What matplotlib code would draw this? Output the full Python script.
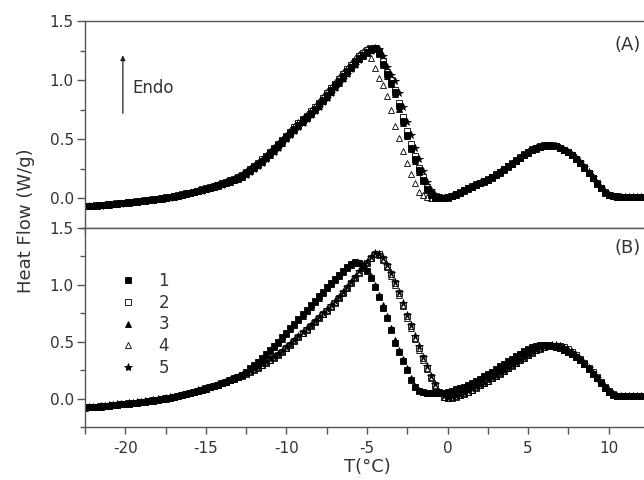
import matplotlib.pyplot as plt
import numpy as np

plt.rcParams['font.family'] = ['DejaVu Sans']
plt.rcParams['axes.unicode_minus'] = False

# temperature grid, deg C
temp = np.arange(-22.5, 12.3, 0.25)

# panel (A): heat flow (W/g) for samples 1-5
a1 = [-0.065, -0.064, -0.062, -0.060, -0.057, -0.054, -0.050, -0.047, -0.043, -0.040,
      -0.037, -0.034, -0.030, -0.026, -0.022, -0.018, -0.014, -0.010, -0.005, 0.000,
      0.005, 0.011, 0.017, 0.024, 0.031, 0.039, 0.047, 0.055, 0.063, 0.072,
      0.081, 0.090, 0.100, 0.110, 0.121, 0.132, 0.144, 0.157, 0.171, 0.190,
      0.215, 0.240, 0.265, 0.290, 0.320, 0.350, 0.380, 0.415, 0.450, 0.485,
      0.520, 0.555, 0.590, 0.625, 0.660, 0.690, 0.725, 0.760, 0.795, 0.835,
      0.875, 0.915, 0.955, 0.995, 1.035, 1.075, 1.115, 1.150, 1.185, 1.215,
      1.240, 1.260, 1.275, 1.230, 1.140, 1.050, 0.980, 0.900, 0.780, 0.655,
      0.540, 0.430, 0.330, 0.240, 0.160, 0.080, 0.035, 0.015, 0.007, 0.004,
      0.008, 0.020, 0.035, 0.050, 0.070, 0.085, 0.100, 0.115, 0.130, 0.145,
      0.160, 0.180, 0.200, 0.220, 0.245, 0.270, 0.295, 0.320, 0.345, 0.370,
      0.390, 0.410, 0.425, 0.437, 0.445, 0.448, 0.446, 0.440, 0.428, 0.410,
      0.390, 0.365, 0.335, 0.300, 0.260, 0.215, 0.170, 0.125, 0.085, 0.050,
      0.030, 0.020, 0.016, 0.014, 0.013, 0.013, 0.013, 0.013, 0.013, 0.013]
a2 = [-0.063, -0.062, -0.060, -0.058, -0.055, -0.052, -0.048, -0.045, -0.041, -0.038,
      -0.035, -0.032, -0.028, -0.024, -0.020, -0.016, -0.012, -0.007, -0.002, 0.003,
      0.008, 0.014, 0.020, 0.027, 0.034, 0.042, 0.050, 0.058, 0.067, 0.076,
      0.085, 0.095, 0.105, 0.116, 0.127, 0.139, 0.152, 0.166, 0.181, 0.200,
      0.225, 0.250, 0.275, 0.300, 0.330, 0.360, 0.390, 0.425, 0.460, 0.495,
      0.530, 0.565, 0.600, 0.635, 0.670, 0.700, 0.735, 0.770, 0.810, 0.850,
      0.890, 0.930, 0.970, 1.010, 1.050, 1.090, 1.130, 1.165, 1.200, 1.230,
      1.255, 1.270, 1.270, 1.240, 1.160, 1.070, 1.000, 0.920, 0.810, 0.685,
      0.570, 0.460, 0.355, 0.260, 0.180, 0.095, 0.045, 0.018, 0.008, 0.004,
      0.009, 0.021, 0.036, 0.052, 0.072, 0.088, 0.103, 0.118, 0.133, 0.148,
      0.164, 0.184, 0.205, 0.226, 0.250, 0.275, 0.300, 0.325, 0.350, 0.374,
      0.395, 0.414, 0.430, 0.441, 0.448, 0.451, 0.449, 0.442, 0.430, 0.412,
      0.392, 0.367, 0.337, 0.302, 0.262, 0.218, 0.172, 0.127, 0.088, 0.053,
      0.032, 0.021, 0.017, 0.015, 0.014, 0.014, 0.014, 0.014, 0.014, 0.014]
a3 = [-0.067, -0.066, -0.064, -0.062, -0.059, -0.056, -0.052, -0.049, -0.045, -0.042,
      -0.039, -0.036, -0.032, -0.028, -0.024, -0.020, -0.016, -0.012, -0.007, -0.002,
      0.003, 0.009, 0.015, 0.022, 0.029, 0.037, 0.045, 0.053, 0.061, 0.070,
      0.079, 0.088, 0.098, 0.108, 0.119, 0.130, 0.142, 0.155, 0.168, 0.185,
      0.208, 0.232, 0.256, 0.281, 0.310, 0.340, 0.370, 0.403, 0.437, 0.472,
      0.507, 0.542, 0.577, 0.612, 0.647, 0.677, 0.712, 0.747, 0.782, 0.820,
      0.860, 0.900, 0.940, 0.980, 1.020, 1.060, 1.100, 1.138, 1.175, 1.205,
      1.232, 1.252, 1.265, 1.220, 1.125, 1.035, 0.965, 0.880, 0.760, 0.640,
      0.525, 0.415, 0.315, 0.225, 0.145, 0.070, 0.030, 0.013, 0.006, 0.004,
      0.007, 0.018, 0.033, 0.048, 0.067, 0.082, 0.097, 0.112, 0.127, 0.142,
      0.157, 0.176, 0.196, 0.216, 0.240, 0.265, 0.290, 0.315, 0.340, 0.365,
      0.386, 0.406, 0.422, 0.434, 0.443, 0.447, 0.446, 0.441, 0.430, 0.413,
      0.394, 0.370, 0.341, 0.307, 0.268, 0.224, 0.178, 0.132, 0.090, 0.055,
      0.033, 0.021, 0.016, 0.014, 0.013, 0.013, 0.013, 0.013, 0.013, 0.013]
a4 = [-0.062, -0.061, -0.059, -0.057, -0.054, -0.051, -0.047, -0.044, -0.040, -0.037,
      -0.034, -0.031, -0.027, -0.023, -0.019, -0.015, -0.011, -0.006, -0.001, 0.004,
      0.010, 0.016, 0.022, 0.029, 0.037, 0.045, 0.053, 0.062, 0.071, 0.080,
      0.090, 0.100, 0.110, 0.121, 0.133, 0.145, 0.158, 0.172, 0.187, 0.205,
      0.230, 0.255, 0.280, 0.307, 0.337, 0.368, 0.400, 0.435, 0.470, 0.505,
      0.540, 0.575, 0.610, 0.645, 0.680, 0.712, 0.748, 0.785, 0.825, 0.865,
      0.905, 0.945, 0.985, 1.025, 1.065, 1.105, 1.145, 1.185, 1.220, 1.250,
      1.270, 1.190, 1.100, 1.020, 0.955, 0.870, 0.745, 0.615, 0.510, 0.400,
      0.300, 0.210, 0.130, 0.055, 0.025, 0.012, 0.006, 0.004, 0.003, 0.004,
      0.010, 0.022, 0.037, 0.054, 0.073, 0.089, 0.104, 0.119, 0.134, 0.149,
      0.165, 0.185, 0.206, 0.228, 0.252, 0.277, 0.302, 0.327, 0.352, 0.376,
      0.397, 0.416, 0.432, 0.443, 0.450, 0.452, 0.450, 0.443, 0.431, 0.413,
      0.393, 0.368, 0.338, 0.303, 0.263, 0.219, 0.173, 0.128, 0.089, 0.054,
      0.033, 0.022, 0.017, 0.015, 0.014, 0.014, 0.014, 0.014, 0.014, 0.014]
a5 = [-0.068, -0.067, -0.065, -0.063, -0.060, -0.057, -0.053, -0.050, -0.046, -0.043,
      -0.040, -0.037, -0.033, -0.029, -0.025, -0.021, -0.017, -0.013, -0.008, -0.003,
      0.002, 0.007, 0.013, 0.020, 0.027, 0.035, 0.043, 0.051, 0.059, 0.067,
      0.076, 0.085, 0.095, 0.105, 0.116, 0.127, 0.139, 0.152, 0.165, 0.180,
      0.202, 0.226, 0.250, 0.275, 0.303, 0.333, 0.363, 0.395, 0.430, 0.465,
      0.500, 0.535, 0.570, 0.605, 0.640, 0.670, 0.705, 0.740, 0.775, 0.812,
      0.852, 0.892, 0.932, 0.972, 1.012, 1.052, 1.092, 1.130, 1.167, 1.200,
      1.228, 1.250, 1.270, 1.260, 1.200, 1.110, 1.040, 0.990, 0.890, 0.770,
      0.650, 0.540, 0.430, 0.330, 0.230, 0.140, 0.070, 0.030, 0.012, 0.006,
      0.008, 0.019, 0.033, 0.048, 0.067, 0.082, 0.097, 0.112, 0.127, 0.142,
      0.157, 0.176, 0.196, 0.216, 0.240, 0.265, 0.290, 0.315, 0.340, 0.365,
      0.386, 0.406, 0.422, 0.434, 0.443, 0.447, 0.446, 0.441, 0.430, 0.413,
      0.394, 0.370, 0.341, 0.307, 0.268, 0.224, 0.178, 0.132, 0.090, 0.055,
      0.033, 0.021, 0.016, 0.014, 0.013, 0.013, 0.013, 0.013, 0.013, 0.013]

# panel (B): heat flow (W/g) for samples 1-5
b1 = [-0.077, -0.076, -0.074, -0.072, -0.069, -0.066, -0.062, -0.058, -0.054, -0.050,
      -0.046, -0.043, -0.039, -0.035, -0.031, -0.026, -0.021, -0.016, -0.010, -0.004,
      0.002, 0.009, 0.016, 0.024, 0.032, 0.041, 0.050, 0.059, 0.069, 0.079,
      0.089, 0.100, 0.111, 0.123, 0.136, 0.149, 0.163, 0.178, 0.193, 0.210,
      0.235, 0.265, 0.295, 0.325, 0.360, 0.395, 0.430, 0.465, 0.500, 0.540,
      0.580, 0.620, 0.660, 0.700, 0.740, 0.780, 0.820, 0.860, 0.900, 0.940,
      0.980, 1.020, 1.055, 1.090, 1.125, 1.155, 1.180, 1.197, 1.195, 1.170,
      1.120, 1.060, 0.980, 0.890, 0.800, 0.710, 0.600, 0.490, 0.410, 0.330,
      0.250, 0.160, 0.100, 0.070, 0.055, 0.048, 0.045, 0.045, 0.047, 0.052,
      0.060, 0.070, 0.080, 0.092, 0.105, 0.120, 0.138, 0.156, 0.175, 0.195,
      0.215, 0.237, 0.260, 0.283, 0.306, 0.330, 0.352, 0.374, 0.395, 0.415,
      0.440, 0.452, 0.461, 0.467, 0.470, 0.468, 0.463, 0.455, 0.443, 0.428,
      0.410, 0.388, 0.362, 0.335, 0.300, 0.260, 0.220, 0.178, 0.135, 0.090,
      0.055, 0.033, 0.024, 0.020, 0.019, 0.019, 0.019, 0.019, 0.019, 0.019]
b2 = [-0.078, -0.077, -0.075, -0.073, -0.070, -0.067, -0.063, -0.059, -0.055, -0.051,
      -0.047, -0.044, -0.040, -0.036, -0.032, -0.027, -0.022, -0.017, -0.011, -0.005,
      0.001, 0.008, 0.015, 0.023, 0.031, 0.040, 0.049, 0.058, 0.068, 0.078,
      0.088, 0.099, 0.110, 0.122, 0.135, 0.148, 0.162, 0.176, 0.189, 0.202,
      0.218, 0.235, 0.253, 0.272, 0.292, 0.313, 0.335, 0.359, 0.384, 0.411,
      0.441, 0.473, 0.506, 0.540, 0.573, 0.606, 0.639, 0.673, 0.706, 0.740,
      0.773, 0.808, 0.843, 0.882, 0.926, 0.971, 1.016, 1.061, 1.106, 1.151,
      1.192, 1.233, 1.270, 1.268, 1.228, 1.165, 1.092, 1.013, 0.924, 0.825,
      0.725, 0.635, 0.535, 0.445, 0.355, 0.273, 0.192, 0.120, 0.057, 0.018,
      0.005, 0.009, 0.018, 0.030, 0.044, 0.060, 0.077, 0.096, 0.116, 0.136,
      0.156, 0.177, 0.198, 0.220, 0.243, 0.266, 0.289, 0.312, 0.335, 0.358,
      0.381, 0.403, 0.423, 0.440, 0.453, 0.462, 0.466, 0.466, 0.461, 0.450,
      0.433, 0.409, 0.379, 0.347, 0.311, 0.271, 0.230, 0.188, 0.145, 0.101,
      0.065, 0.040, 0.027, 0.022, 0.020, 0.020, 0.020, 0.020, 0.020, 0.020]
b3 = [-0.079, -0.078, -0.076, -0.074, -0.071, -0.068, -0.064, -0.060, -0.056, -0.052,
      -0.048, -0.045, -0.041, -0.037, -0.033, -0.028, -0.023, -0.018, -0.012, -0.006,
      0.000, 0.007, 0.014, 0.022, 0.030, 0.039, 0.048, 0.057, 0.067, 0.077,
      0.087, 0.098, 0.109, 0.121, 0.134, 0.147, 0.161, 0.176, 0.191, 0.207,
      0.230, 0.258, 0.287, 0.317, 0.350, 0.385, 0.420, 0.455, 0.490, 0.528,
      0.568, 0.608, 0.648, 0.688, 0.728, 0.768, 0.808, 0.848, 0.888, 0.928,
      0.968, 1.008, 1.045, 1.080, 1.115, 1.147, 1.174, 1.193, 1.196, 1.178,
      1.135, 1.075, 1.000, 0.910, 0.820, 0.730, 0.625, 0.515, 0.430, 0.350,
      0.270, 0.180, 0.112, 0.076, 0.058, 0.050, 0.046, 0.045, 0.046, 0.050,
      0.057, 0.066, 0.076, 0.088, 0.101, 0.115, 0.132, 0.150, 0.169, 0.189,
      0.209, 0.231, 0.254, 0.277, 0.300, 0.324, 0.347, 0.369, 0.390, 0.411,
      0.436, 0.449, 0.459, 0.466, 0.469, 0.468, 0.464, 0.457, 0.446, 0.431,
      0.413, 0.392, 0.366, 0.339, 0.305, 0.266, 0.226, 0.184, 0.141, 0.096,
      0.060, 0.036, 0.025, 0.021, 0.019, 0.019, 0.019, 0.019, 0.019, 0.019]
b4 = [-0.076, -0.075, -0.073, -0.071, -0.068, -0.065, -0.061, -0.057, -0.053, -0.049,
      -0.045, -0.042, -0.038, -0.034, -0.030, -0.025, -0.020, -0.015, -0.009, -0.003,
      0.003, 0.010, 0.017, 0.025, 0.033, 0.042, 0.051, 0.060, 0.070, 0.080,
      0.090, 0.101, 0.112, 0.124, 0.137, 0.150, 0.164, 0.178, 0.191, 0.205,
      0.222, 0.240, 0.258, 0.277, 0.297, 0.318, 0.340, 0.365, 0.390, 0.418,
      0.448, 0.480, 0.513, 0.547, 0.580, 0.613, 0.646, 0.680, 0.713, 0.747,
      0.780, 0.815, 0.850, 0.890, 0.935, 0.980, 1.025, 1.070, 1.115, 1.160,
      1.200, 1.240, 1.275, 1.265, 1.220, 1.155, 1.080, 1.000, 0.910, 0.810,
      0.710, 0.620, 0.520, 0.430, 0.340, 0.260, 0.180, 0.110, 0.050, 0.015,
      0.004, 0.010, 0.020, 0.032, 0.046, 0.062, 0.079, 0.098, 0.118, 0.138,
      0.158, 0.179, 0.200, 0.222, 0.245, 0.268, 0.291, 0.314, 0.337, 0.360,
      0.384, 0.406, 0.426, 0.442, 0.455, 0.463, 0.467, 0.466, 0.460, 0.448,
      0.430, 0.405, 0.374, 0.342, 0.306, 0.266, 0.225, 0.183, 0.140, 0.097,
      0.062, 0.038, 0.026, 0.021, 0.019, 0.019, 0.019, 0.019, 0.019, 0.019]
b5 = [-0.075, -0.074, -0.072, -0.070, -0.067, -0.064, -0.060, -0.056, -0.052, -0.048,
      -0.044, -0.041, -0.037, -0.033, -0.029, -0.024, -0.019, -0.014, -0.008, -0.002,
      0.004, 0.011, 0.018, 0.026, 0.034, 0.043, 0.052, 0.061, 0.071, 0.081,
      0.091, 0.102, 0.113, 0.125, 0.138, 0.151, 0.165, 0.179, 0.192, 0.207,
      0.225, 0.244, 0.262, 0.281, 0.301, 0.322, 0.344, 0.369, 0.394, 0.422,
      0.452, 0.484, 0.517, 0.551, 0.584, 0.617, 0.650, 0.684, 0.717, 0.751,
      0.784, 0.819, 0.854, 0.894, 0.938, 0.983, 1.028, 1.073, 1.118, 1.163,
      1.203, 1.242, 1.276, 1.270, 1.232, 1.172, 1.100, 1.022, 0.935, 0.838,
      0.738, 0.648, 0.548, 0.458, 0.368, 0.284, 0.200, 0.127, 0.062, 0.020,
      0.005, 0.011, 0.021, 0.033, 0.047, 0.063, 0.080, 0.099, 0.119, 0.139,
      0.159, 0.180, 0.201, 0.223, 0.246, 0.269, 0.292, 0.315, 0.338, 0.361,
      0.385, 0.407, 0.427, 0.443, 0.456, 0.464, 0.468, 0.467, 0.461, 0.449,
      0.431, 0.406, 0.375, 0.343, 0.307, 0.267, 0.226, 0.184, 0.141, 0.098,
      0.063, 0.039, 0.026, 0.021, 0.019, 0.019, 0.019, 0.019, 0.019, 0.019]

labels = ['1', '2', '3', '4', '5']
# marker, face colour, size
styles = [('s', 'k', 3.8), ('s', 'none', 3.8), ('^', 'k', 4.2),
          ('^', 'none', 4.2), ('*', 'k', 5.5)]

GRAY = '#555555'
TXT = '#333333'
FS_TICK = 11
FS_MID = 12
FS_BIG = 13


def draw_panel(ax, series):
    handles = []
    for y, lab, (m, fc, ms) in zip(series, labels, styles):
        h, = ax.plot(temp, y, linestyle='none', marker=m, markersize=ms,
                     markerfacecolor=fc, markeredgecolor='k',
                     markeredgewidth=0.6, label=lab)
        handles.append(h)
    ax.set_xlim(-22.5, 13.0)
    ax.set_ylim(-0.25, 1.5)
    ax.set_xticks([-20, -15, -10, -5, 0, 5, 10])
    ax.set_xticks([-22.5, -17.5, -12.5, -7.5, -2.5, 2.5, 7.5, 12.5], minor=True)
    ax.set_yticks([0.0, 0.5, 1.0, 1.5])
    ax.set_yticklabels(['0.0', '0.5', '1.0', '1.5'])
    ax.set_yticks([-0.25, 0.25, 0.75, 1.25], minor=True)
    for s in ax.spines.values():
        s.set_color(GRAY)
        s.set_linewidth(1.0)
    ax.spines['right'].set_visible(False)
    ax.tick_params(axis='both', which='both', direction='out', colors=GRAY,
                   labelcolor=TXT, labelsize=FS_TICK, width=1.0, top=False, right=False)
    ax.tick_params(axis='y', which='major', length=6, pad=2)
    ax.tick_params(axis='y', which='minor', length=3.5)
    ax.tick_params(axis='x', which='both', length=5, pad=5)
    return handles


fig = plt.figure(figsize=(6.44, 4.8), dpi=100)
W, H = 644.0, 480.0
ax_a = fig.add_axes([85 / W, (H - 228) / H, 572 / W, 207 / H])
ax_b = fig.add_axes([85 / W, (H - 427) / H, 572 / W, 199 / H])

draw_panel(ax_a, [a1, a2, a3, a4, a5])
ax_a.tick_params(axis='x', labelbottom=False)

hb = draw_panel(ax_b, [b1, b2, b3, b4, b5])

# endotherm direction
ax_a.annotate('', xy=(-20.15, 1.21), xytext=(-20.15, 0.72),
              arrowprops=dict(arrowstyle='-|>', color='#222222', lw=0.9,
                              mutation_scale=7, shrinkA=0, shrinkB=0))
ax_a.text(-19.55, 0.93, 'Endo', fontsize=FS_MID, color=TXT, va='center', ha='left')

ax_a.text(10.35, 1.30, '(A)', fontsize=FS_BIG, color=TXT, va='center', ha='left')
ax_b.text(10.35, 1.32, '(B)', fontsize=FS_BIG, color=TXT, va='center', ha='left')

leg = ax_b.legend(handles=hb, loc='upper left', bbox_to_anchor=(120 / W, 1 - 272 / H),
                  bbox_transform=fig.transFigure, frameon=False, numpoints=1,
                  handlelength=1.0, handletextpad=1.3, labelspacing=0.22,
                  borderpad=0, borderaxespad=0, fontsize=FS_MID, markerscale=1.1)
for t in leg.get_texts():
    t.set_color(TXT)

fig.text(26 / W, 1 - 221 / H, 'Heat Flow (W/g)', rotation=90, ha='center',
         va='center', fontsize=FS_BIG, color=TXT)
fig.text(367 / W, 1 - 467 / H, 'T(\u00b0C)', ha='center', va='center',
         fontsize=FS_BIG, color=TXT)

fig.savefig('out.png', dpi=100, facecolor='white')
